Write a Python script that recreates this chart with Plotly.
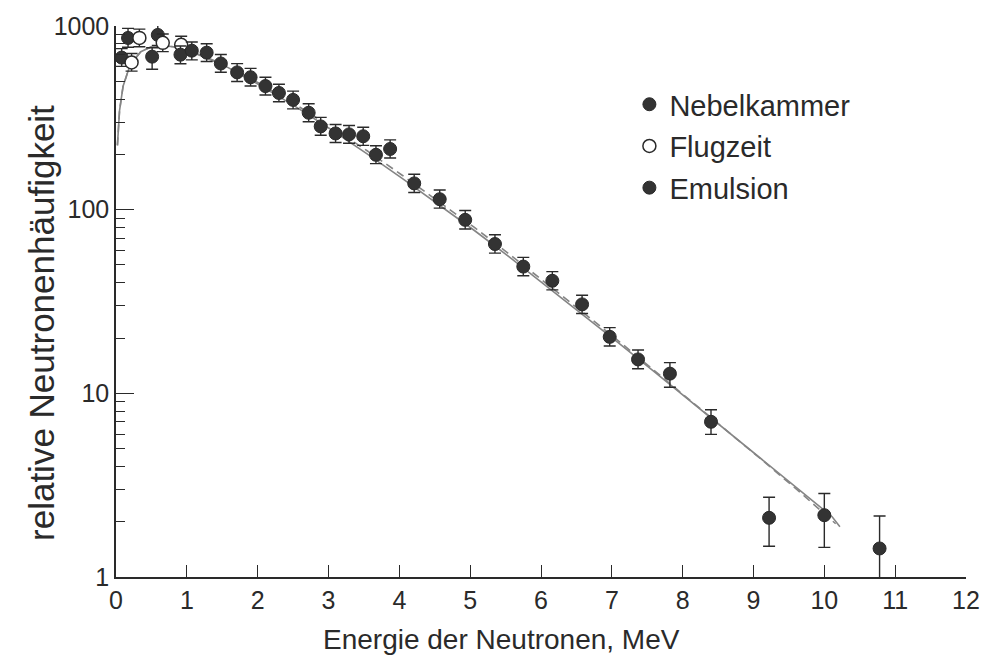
import plotly.graph_objects as go

# ---- data ----
energy_nebel = [0.08, 0.17, 0.59]
rate_nebel = [673, 861, 894]
err_up_nebel = [80, 110, 120]
err_dn_nebel = [70, 95, 110]

energy_flug = [0.22, 0.33, 0.66, 0.92]
rate_flug = [633, 861, 810, 790]
err_up_flug = [75, 100, 95, 90]
err_dn_flug = [65, 90, 85, 85]

energy_emul = [0.51, 0.91, 1.07, 1.28, 1.48, 1.71, 1.90, 2.11, 2.30, 2.50, 2.72, 2.89,
               3.10, 3.29, 3.49, 3.67, 3.87, 4.21, 4.57, 4.93, 5.35, 5.75, 6.16, 6.58,
               6.97, 7.37, 7.82, 8.40, 9.22, 10.00, 10.78]
rate_emul = [681, 698, 734, 716, 625, 559, 526, 471, 432, 396, 337, 284,
             260, 257, 251, 199, 214, 139, 114, 88, 65, 49, 41, 30.5,
             20.3, 15.3, 12.8, 7.0, 2.1, 2.17, 1.43]
err_up_emul = [80, 80, 85, 85, 75, 65, 62, 55, 50, 46, 40, 34,
               31, 30, 30, 24, 26, 17, 14, 11, 8, 6, 5, 3.7,
               2.5, 1.9, 1.9, 1.14, 0.62, 0.68, 0.72]
err_dn_emul = [100, 75, 80, 75, 65, 60, 55, 50, 45, 42, 36, 30,
               28, 27, 27, 21, 23, 15, 12, 9.5, 7, 5.3, 4.4, 3.3,
               2.2, 1.7, 2.0, 1.02, 0.63, 0.72, 0.83]

curve_solid_x = [0.02, 0.05, 0.1, 0.2, 0.35, 0.5, 0.66, 0.81, 1.01, 1.52, 2.02, 2.53, 3.03,
                 3.54, 4.04, 4.55, 5.06, 5.56, 6.07, 6.57, 7.08, 7.58, 8.09, 8.6, 9.1, 9.61,
                 10.11, 10.22]
curve_solid_y = [224, 346, 470, 615, 724, 770, 781, 771, 738, 612, 479, 365, 274,
                 202, 148, 107, 77, 55, 38.6, 27.2, 19.0, 13.3, 9.2, 6.4, 4.45, 3.08,
                 2.13, 1.88]
curve_dash_x = [0.02, 0.05, 0.1, 0.2, 0.35, 0.5, 0.66, 0.81, 1.01, 1.52, 2.02, 2.53, 3.03,
                3.54, 4.04, 4.55, 5.06, 5.56, 6.07, 6.57, 7.08, 7.58, 8.09, 8.6, 9.1, 9.61,
                10.11, 10.16]
curve_dash_y = [224, 346, 470, 615, 724, 770, 781, 771, 740, 618, 488, 375, 283,
                210, 154, 111, 80, 57, 40, 28, 19.5, 13.5, 9.3, 6.4, 4.4, 3.0,
                2.05, 1.95]

y_ticks = [1, 10, 100, 1000]
y_minor = [2, 3, 4, 5, 6, 7, 8, 9, 20, 30, 40, 50, 60, 70, 80, 90,
           200, 300, 400, 500, 600, 700, 800, 900]

FONT = "Liberation Sans, Arial, sans-serif"
INK = "#2a2a2a"
LINE = "#858585"

fig = go.Figure()

fig.add_trace(go.Scatter(x=curve_solid_x, y=curve_solid_y, mode="lines",
                         line=dict(color=LINE, width=1.6), showlegend=False,
                         hoverinfo="skip"))
fig.add_trace(go.Scatter(x=curve_dash_x, y=curve_dash_y, mode="lines",
                         line=dict(color=LINE, width=1.6, dash="8px,5px"),
                         showlegend=False, hoverinfo="skip"))

err_style = dict(type="data", color=INK, thickness=1.4, width=6)

fig.add_trace(go.Scatter(
    x=energy_nebel, y=rate_nebel, mode="markers", name="Nebelkammer",
    legendgroup="a",
    marker=dict(symbol="circle", size=13, color="#333333", line=dict(color=INK, width=1)),
    error_y=dict(array=err_up_nebel, arrayminus=err_dn_nebel, **err_style)))

fig.add_trace(go.Scatter(
    x=energy_flug, y=rate_flug, mode="markers", name="Flugzeit",
    legendgroup="b",
    marker=dict(symbol="circle", size=13, color="white", line=dict(color=INK, width=1.5)),
    error_y=dict(array=err_up_flug, arrayminus=err_dn_flug, **err_style)))

fig.add_trace(go.Scatter(
    x=energy_emul, y=rate_emul, mode="markers", name="Emulsion",
    legendgroup="c", cliponaxis=False,
    marker=dict(symbol="circle", size=13, color="#333333", line=dict(color=INK, width=1)),
    error_y=dict(array=err_up_emul, arrayminus=err_dn_emul, **err_style)))

fig.update_layout(
    width=992, height=660,
    margin=dict(l=116, r=17, t=19, b=83),
    paper_bgcolor="white", plot_bgcolor="white",
    font=dict(family=FONT, size=24, color=INK),
    legend=dict(x=0.604, y=0.904, xanchor="left", yanchor="top",
                bgcolor="rgba(0,0,0,0)", tracegroupgap=1,
                font=dict(size=29, color=INK)),
    xaxis=dict(range=[0, 12], tickmode="linear", tick0=0, dtick=1,
               ticks="inside", ticklen=12, tickwidth=1.3, tickcolor=INK,
               showline=True, linecolor=INK, linewidth=1.5,
               showgrid=False, zeroline=False,
               tickfont=dict(size=25, color=INK)),
    yaxis=dict(type="log", range=[0, 3], tickmode="array", tickvals=y_ticks,
               ticktext=[str(v) for v in y_ticks],
               ticks="inside", ticklen=18, tickwidth=1.3, tickcolor=INK,
               minor=dict(tickmode="array", tickvals=y_minor, ticks="inside",
                          ticklen=9, tickwidth=1.2, tickcolor=INK, showgrid=False),
               showline=True, linecolor=INK, linewidth=1.5,
               showgrid=False, zeroline=False,
               tickfont=dict(size=25, color=INK)),
    annotations=[
        dict(text="Energie der Neutronen, MeV", xref="paper", yref="paper",
             x=0.454, y=-0.113, xanchor="center", yanchor="middle",
             showarrow=False, font=dict(size=28, color=INK)),
        dict(text="relative Neutronenhäufigkeit", xref="paper", yref="paper",
             x=-0.0885, y=0.4606, xanchor="center", yanchor="middle",
             textangle=-90, showarrow=False, font=dict(size=35, color=INK)),
    ],
)

fig.write_html("out.html")
